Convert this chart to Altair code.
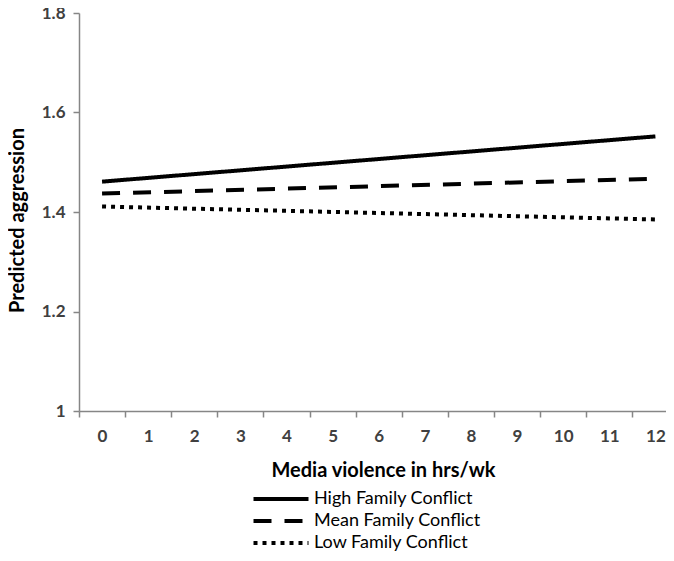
import altair as alt
import pandas as pd

series = ["High Family Conflict", "Mean Family Conflict", "Low Family Conflict"]
hours = [0, 12]
high = [1.461, 1.552]
mean = [1.437, 1.467]
low = [1.411, 1.385]
x_labels = list(range(13))
y_ticks = [1.0, 1.2, 1.4, 1.6, 1.8]

rows = []
for name, vals in zip(series, [high, mean, low]):
    for h, v in zip(hours, vals):
        rows.append({"hours": h, "value": v, "series": name})
df = pd.DataFrame(rows)

x_ticks = [i - 0.5 for i in x_labels] + x_labels

FONT = "Lato"

chart = alt.Chart(df).mark_line(strokeWidth=4, strokeCap="butt", color="black").encode(
    x=alt.X(
        "hours:Q",
        scale=alt.Scale(domain=[-0.5, 12.23], nice=False, zero=False),
        axis=alt.Axis(
            values=x_ticks,
            format="~g",
            labelExpr="datum.value % 1 === 0 ? datum.label : ''",
            tickOpacity={"condition": {"test": "datum.value % 1 !== 0", "value": 1}, "value": 0},
            tickSize=6,
            tickWidth=1.5,
            tickColor="#868686",
            domainColor="#868686",
            domainWidth=1.5,
            grid=False,
            labelFont=FONT,
            labelFontSize=17,
            labelFontWeight="bold",
            labelColor="#404040",
            labelPadding=11,
            labelFlush=False,
            title="Media violence in hrs/wk",
            titleFont=FONT,
            titleFontSize=20,
            titleFontWeight="bold",
            titleColor="black",
            titleX=304,
            titleY=65,
            titleBaseline="alphabetic",
            titleAlign="center",
        ),
    ),
    y=alt.Y(
        "value:Q",
        scale=alt.Scale(domain=[1, 1.8], nice=False, zero=False),
        axis=alt.Axis(
            values=y_ticks,
            format="~g",
            tickSize=6,
            tickWidth=1.5,
            tickColor="#868686",
            domainColor="#868686",
            domainWidth=1.5,
            grid=False,
            labelFont=FONT,
            labelFontSize=17,
            labelFontWeight="bold",
            labelColor="#404040",
            labelPadding=8,
            title="Predicted aggression",
            titleFont=FONT,
            titleFontSize=20,
            titleFontWeight="bold",
            titleColor="black",
            titleX=-62,
            titleY=207,
            titleAngle=270,
            titleAlign="center",
            titleBaseline="middle",
        ),
    ),
    strokeDash=alt.StrokeDash(
        "series:N",
        scale=alt.Scale(domain=series, range=[[1, 0], [18, 13], [4, 5]]),
        legend=alt.Legend(
            title=None,
            orient="none",
            legendX=193,
            legendY=477,
            symbolType="M-5,0H5",
            symbolSize=121,
            symbolStrokeWidth=4,
            symbolStrokeColor="black",
            symbolFillColor="transparent",
            labelFont=FONT,
            labelFontSize=18,
            labelColor="black",
            labelOffset=24,
            labelLimit=300,
            rowPadding=4,
        ),
    ),
).properties(
    width=587,
    height=398,
    padding={"left": 71, "top": 5, "right": 0, "bottom": 142},
    autosize=alt.AutoSizeParams(type="none"),
).configure_view(stroke=None)

chart.save("out.html", embed_options={"renderer": "svg", "actions": False})
